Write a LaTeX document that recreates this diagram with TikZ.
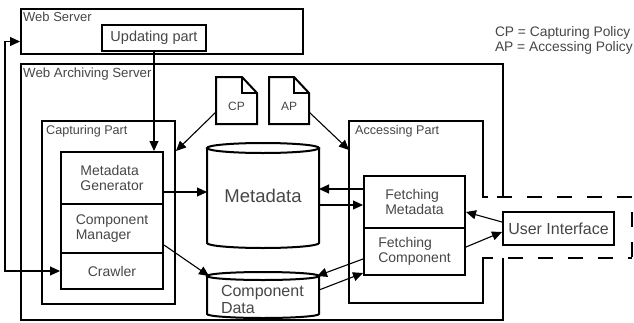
\documentclass[tikz,border=0pt]{standalone}
\usepackage{fontspec}
\setmainfont{Liberation Sans}
\usetikzlibrary{arrows.meta}
\definecolor{txtc}{RGB}{70,70,70}
\begin{document}
\begin{tikzpicture}[x=1pt,y=-1pt,
  frame/.style={draw, line width=2pt, inner sep=0pt},
  ghost/.style={inner sep=0pt, outer sep=0pt},
  box/.style={frame, text=txtc, align=left, font=\fontsize{14pt}{15pt}\selectfont},
  lbl/.style={inner sep=0pt, anchor=base west, text=txtc},
  arr/.style={line width=1.1pt, -{Triangle[length=10pt,width=9pt]}},
  darr/.style={line width=1.1pt, {Triangle[length=10pt,width=9pt]}-{Triangle[length=10pt,width=9pt]}},
  dashline/.style={line width=2pt, dash pattern=on 15pt off 15pt},
  outline/.style={line width=2pt},
]
\useasboundingbox (0,0) rectangle (634,322);

% Web server
\node[frame, minimum width=282pt, minimum height=45pt] (ws) at (162,31.5) {};
\node[lbl, font=\fontsize{13pt}{15pt}\selectfont] (wslbl) at (23,21.5) {Web Server};
\node[box, align=center, minimum width=104pt, minimum height=26pt, font=\fontsize{14.5pt}{16pt}\selectfont] (upd) at (154,38) {Updating part};

% Legend
\node[ghost, anchor=north west, align=left, text=txtc, font=\fontsize{13.8pt}{14.5pt}\selectfont] (legend) at (495,26.8) {CP = Capturing Policy\\AP = Accessing Policy};

% Web archiving server
\node[ghost, minimum width=482pt, minimum height=256pt] (was) at (262,192) {};
\draw[outline] ([yshift=-133pt]was.north east) -- (was.north east) -- (was.north west) -- (was.south west) -- (was.south east) -- ([yshift=62pt]was.south east);
\node[lbl, font=\fontsize{13.3pt}{15pt}\selectfont] (waslbl) at (23,77.5) {Web Archiving Server};

% Capturing part
\node[frame, minimum width=133pt, minimum height=183pt] (cap) at (108.5,212.5) {};
\node[lbl, font=\fontsize{12.6pt}{14pt}\selectfont] (caplbl) at (46,134) {Capturing Part};
\node[box, minimum width=102pt, minimum height=52pt] (mg) at (112,178) {Metadata\\Generator};
\node[box, minimum width=102pt, minimum height=49pt] (cm) at (112,228.5) {Component\\Manager};
\node[box, minimum width=102pt, minimum height=36pt] (cr) at (112,271) {Crawler};

% Accessing part
\node[ghost, minimum width=134pt, minimum height=182pt] (acc) at (416,212) {};
\draw[outline] ([xshift=5pt,yshift=-76pt]acc.north east) -- ([yshift=-76pt]acc.north east) -- (acc.north east) -- (acc.north west) -- (acc.south west) -- (acc.south east) -- ([yshift=45pt]acc.south east) -- ([xshift=10pt,yshift=45pt]acc.south east);
\node[lbl, font=\fontsize{12.6pt}{14pt}\selectfont] (acclbl) at (355,134) {Accessing Part};
\node[box, minimum width=101pt, minimum height=52pt] (fm) at (414.5,202) {Fetching\\Metadata};
\node[box, minimum width=101pt, minimum height=47pt] (fc) at (414.5,251.5) {Fetching\\Component};

% User interface
\node[box, align=center, minimum width=111pt, minimum height=33pt, font=\fontsize{16pt}{18pt}\selectfont] (ui) at (558.5,228.5) {User Interface};
\coordinate (dstart) at (497,197);
\coordinate (dtr) at (632,197);
\coordinate (dbr) at (632,258);
\coordinate (dbl) at (508,258);
\draw[dashline] (dstart) -- (dtr) -- (dbr);
\draw[dashline] (dbl) -- (dbr);

% Metadata cylinder
\node[ghost, text=txtc, minimum width=112pt, minimum height=105pt, font=\fontsize{18.5pt}{20pt}\selectfont] (md) at (263,195.5) {Metadata};
\draw[outline] ([yshift=-5pt]md.north) ellipse [x radius=56pt, y radius=5pt];
\draw[outline] ([yshift=-5pt]md.north west) -- ([yshift=5pt]md.south west) arc[start angle=180, end angle=360, x radius=56pt, y radius=5pt] -- ([yshift=-5pt]md.north east);

% Component data cylinder
\node[ghost, minimum width=112pt, minimum height=46pt] (cd) at (263,295) {};
\draw[outline] ([yshift=-4pt]cd.north) ellipse [x radius=56pt, y radius=4pt];
\draw[outline] ([yshift=-4pt]cd.north west) -- ([yshift=4pt]cd.south west) arc[start angle=180, end angle=360, x radius=56pt, y radius=4pt] -- ([yshift=-4pt]cd.north east);
\node[ghost, anchor=north west, align=left, text=txtc, font=\fontsize{16pt}{17pt}\selectfont] (cdlbl) at (221,285.5) {Component\\Data};

% Policy documents
\node[ghost, minimum width=41pt, minimum height=47pt] (cp) at (236.5,100.5) {};
\draw[outline] (cp.north west) -- ([xshift=-15pt]cp.north east) -- ([yshift=-16pt]cp.north east) -- (cp.south east) -- (cp.south west) -- cycle;
\draw[line width=1.5pt] ([xshift=-15pt]cp.north east) |- ([yshift=-16pt]cp.north east);
\node[ghost, text=txtc, font=\fontsize{12pt}{14pt}\selectfont] (cplbl) at ([yshift=-5.5pt]cp.center) {CP};

\node[ghost, minimum width=40pt, minimum height=47pt] (ap) at (289,100.5) {};
\draw[outline] (ap.north west) -- ([xshift=-15pt]ap.north east) -- ([yshift=-16pt]ap.north east) -- (ap.south east) -- (ap.south west) -- cycle;
\draw[line width=1.5pt] ([xshift=-15pt]ap.north east) |- ([yshift=-16pt]ap.north east);
\node[ghost, text=txtc, font=\fontsize{12pt}{14pt}\selectfont] (aplbl) at ([yshift=-5.5pt]ap.center) {AP};

% Connectors
\draw[arr] (upd.south) -- (upd.south |- mg.north);
\coordinate (loopx) at (5,0);
\draw[darr] (cr.west) -- (cr.west -| loopx) |- ([yshift=-10pt]ws.west);
\draw[arr] ([yshift=-11.5pt]cp.west) -- ([yshift=-31pt]cap.north east);
\draw[arr] ([yshift=-11.5pt]ap.east) -- ([yshift=-29pt]acc.north west);
\draw[arr] ([yshift=-14pt]mg.east) -- ([yshift=-14pt]mg.east -| md.west);
\draw[arr] ([yshift=-16.5pt]cm.east) -- ([shift={(2pt,-4pt)}]cd.north west);
\draw[arr] ([yshift=13pt]fm.west) -- ([yshift=13pt]fm.west -| md.east);
\draw[arr] ([yshift=-3pt]fm.west -| md.east) -- ([yshift=-3pt]fm.west);
\draw[arr] ([yshift=-7.5pt]fc.west) -- ([shift={(-2pt,-4pt)}]cd.north east);
\draw[arr] ([yshift=5pt]cd.east) -- ([yshift=-21.5pt]fc.west);
\draw[arr] ([yshift=6.5pt]ui.west) -- ([yshift=-10pt]fm.east);
\draw[arr] ([yshift=4.5pt]fc.east) -- ([yshift=-3.5pt]ui.west);
\end{tikzpicture}
\end{document}
